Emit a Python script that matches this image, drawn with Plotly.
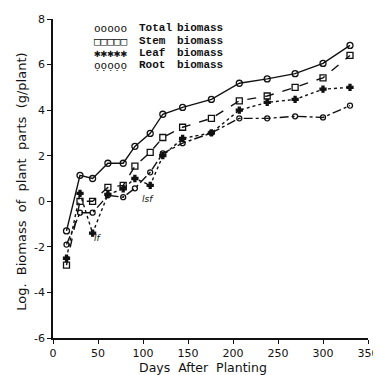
import plotly.graph_objects as go

days = [15, 30, 44, 61, 78, 91, 108, 122, 144, 176, 207, 238, 269, 300, 330]
total_biomass = [-1.3, 1.14, 1.0, 1.67, 1.67, 2.41, 2.98, 3.82, 4.12, 4.47, 5.18, 5.37, 5.6, 6.05, 6.84]
stem_biomass = [-2.8, 0.0, 0.0, 0.61, 0.7, 1.54, 2.15, 2.8, 3.25, 3.64, 4.41, 4.62, 5.0, 5.42, 6.4]
leaf_biomass = [-2.5, 0.35, -1.4, 0.3, 0.55, 1.0, 0.7, 2.0, 2.76, 3.0, 4.0, 4.34, 4.47, 4.92, 5.0]
root_biomass = [-1.9, -0.5, -0.5, 0.26, 0.18, 0.57, 1.27, 2.1, 2.55, 3.0, 3.64, 3.64, 3.73, 3.68, 4.2]

x_ticks = [0, 50, 100, 150, 200, 250, 300, 350]
y_ticks = [-6, -4, -2, 0, 2, 4, 6, 8]

legend_symbols = ["ooooo", "□□□□□", "✱✱✱✱✱", "ọọọọọ"]
legend_names = ["Total", "Stem", "Leaf", "Root"]
legend_rows = [7.59, 7.03, 6.49, 5.96]

FONT = "DejaVu Sans"
INK = "#111111"

fig = go.Figure()
series = [
    (total_biomass, "solid", "circle-open", 6),
    (stem_biomass, "dash", "square-open", 6),
    (leaf_biomass, "dot", "cross", 5),
    (root_biomass, "dashdot", "circle-open", 5),
]
for (vals, dash, sym, size), name in zip(series, legend_names):
    fig.add_trace(go.Scatter(
        x=days, y=vals, mode="lines+markers", name=name + " biomass",
        line=dict(color=INK, width=1.4, dash=dash),
        marker=dict(symbol=sym, size=size, color=INK, line=dict(color=INK, width=1.3)),
        showlegend=False,
    ))

# legend as text
for sym, name, yy in zip(legend_symbols, legend_names, legend_rows):
    fig.add_annotation(x=0.124, xref="paper", y=yy, yref="y", text=sym, showarrow=False,
                       xanchor="left", yanchor="middle",
                       font=dict(family="DejaVu Sans Mono", size=11, color=INK))
    fig.add_annotation(x=0.268, xref="paper", y=yy, yref="y", text="<b>" + name + "</b>", showarrow=False,
                       xanchor="left", yanchor="middle",
                       font=dict(family="Liberation Mono", size=11, color=INK))
    fig.add_annotation(x=0.388, xref="paper", y=yy, yref="y", text="<b>biomass</b>", showarrow=False,
                       xanchor="left", yanchor="middle",
                       font=dict(family="Liberation Mono", size=11, color=INK))

# small handwritten notes
fig.add_annotation(x=50, y=-1.6, text="<i>lf</i>", showarrow=False,
                   font=dict(family=FONT, size=9, color=INK))
fig.add_annotation(x=106, y=0.1, text="<i>lsf</i>", showarrow=False,
                   font=dict(family=FONT, size=9, color=INK))

# axis titles
fig.add_annotation(x=-0.098, xref="paper", y=0.49, yref="paper", textangle=-90,
                   text="Log.  Biomass  of  plant  parts  (g/plant)", showarrow=False,
                   xanchor="center", yanchor="middle", font=dict(family=FONT, size=13, color=INK))
fig.add_annotation(x=0.475, xref="paper", y=-0.094, yref="paper",
                   text="Days  After  Planting", showarrow=False,
                   xanchor="center", yanchor="middle", font=dict(family=FONT, size=12.5, color=INK))

# the page body adds an 8px offset, so the figure is 8px smaller with matching margins
fig.update_layout(
    width=373, height=367,
    margin=dict(l=45, r=13, t=11, b=37),
    paper_bgcolor="white", plot_bgcolor="white",
    font=dict(family=FONT, color=INK),
    showlegend=False,
)
fig.update_xaxes(
    range=[0, 350], tickvals=x_ticks, ticktext=[str(v) for v in x_ticks],
    showgrid=False, zeroline=False, showline=True, linecolor=INK, linewidth=1.5,
    ticks="outside", ticklen=4, tickcolor=INK, tickfont=dict(size=11), automargin=False,
)
fig.update_yaxes(
    range=[-6, 8], tickvals=y_ticks, ticktext=[str(v) for v in y_ticks],
    showgrid=False, zeroline=False, showline=True, linecolor=INK, linewidth=1.5,
    ticks="outside", ticklen=4, tickcolor=INK, tickfont=dict(size=11), automargin=False,
)

fig.write_html("out.html")
